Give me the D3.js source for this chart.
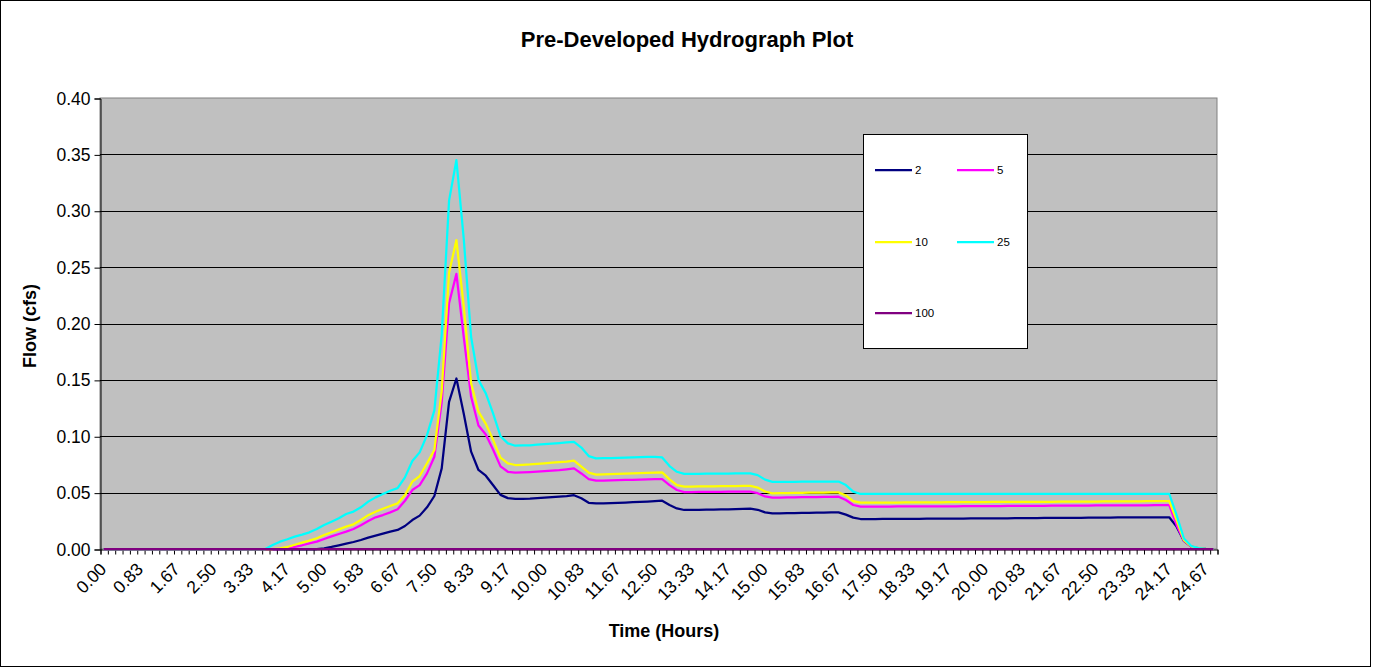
<!DOCTYPE html>
<html>
<head>
<meta charset="utf-8">
<script src="https://cdn.jsdelivr.net/npm/d3@7"></script>
<style>
  html, body { margin: 0; padding: 0; background: #ffffff; }
  svg { display: block; }
  text { font-family: "Liberation Sans", Arial, sans-serif; fill: #000; }
</style>
</head>
<body>
<svg id="chart" width="1373" height="667"></svg>
<script>
// ---------- DATA ----------
const times = [
  0.00,0.17,0.33,0.50,0.67,0.83,1.00,1.17,1.33,1.50,
  1.67,1.83,2.00,2.17,2.33,2.50,2.67,2.83,3.00,3.17,
  3.33,3.50,3.67,3.83,4.00,4.17,4.33,4.50,4.67,4.83,
  5.00,5.17,5.33,5.50,5.67,5.83,6.00,6.17,6.33,6.50,
  6.67,6.83,7.00,7.17,7.33,7.50,7.67,7.83,8.00,8.17,
  8.33,8.50,8.67,8.83,9.00,9.17,9.33,9.50,9.67,9.83,
  10.00,10.17,10.33,10.50,10.67,10.83,11.00,11.17,11.33,11.50,
  11.67,11.83,12.00,12.17,12.33,12.50,12.67,12.83,13.00,13.17,
  13.33,13.50,13.67,13.83,14.00,14.17,14.33,14.50,14.67,14.83,
  15.00,15.17,15.33,15.50,15.67,15.83,16.00,16.17,16.33,16.50,
  16.67,16.83,17.00,17.17,17.33,17.50,17.67,17.83,18.00,18.17,
  18.33,18.50,18.67,18.83,19.00,19.17,19.33,19.50,19.67,19.83,
  20.00,20.17,20.33,20.50,20.67,20.83,21.00,21.17,21.33,21.50,
  21.67,21.83,22.00,22.17,22.33,22.50,22.67,22.83,23.00,23.17,
  23.33,23.50,23.67,23.83,24.00,24.17,24.27,24.37,24.47,24.57,
  24.67,24.77
];

const yTicks = [0.00, 0.05, 0.10, 0.15, 0.20, 0.25, 0.30, 0.35, 0.40];

const flow2 = [
  0,0,0,0,0,0,0,0,0,0,
  0,0,0,0,0,0,0,0,0,0,
  0,0,0,0,0,0,0,0,0,0,
  0.0006,0.0018,0.0033,0.0047,0.0062,0.008,0.0101,0.0118,0.0136,0.0154,
  0.0169,0.0204,0.0257,0.0296,0.037,0.047,0.0715,0.1305,0.1512,0.12,
  0.0863,0.0701,0.065,0.0565,0.048,0.0451,0.0444,0.0445,0.0447,0.0451,
  0.0455,0.046,0.0465,0.047,0.0477,0.045,0.041,0.0404,0.0405,0.0407,
  0.0409,0.0412,0.0415,0.0418,0.0421,0.0425,0.0428,0.039,0.036,0.0346,
  0.0347,0.0348,0.035,0.035,0.0351,0.0352,0.0354,0.0356,0.0358,0.0348,
  0.0325,0.0316,0.0317,0.0318,0.0319,0.032,0.0321,0.0322,0.0323,0.0324,
  0.0325,0.0305,0.0278,0.0266,0.0266,0.0266,0.0267,0.0267,0.0267,0.0268,
  0.0268,0.0268,0.0269,0.0269,0.0269,0.027,0.027,0.027,0.0271,0.0271,
  0.0271,0.0272,0.0272,0.0272,0.0273,0.0273,0.0274,0.0274,0.0275,0.0275,
  0.0276,0.0276,0.0277,0.0277,0.0278,0.0278,0.0279,0.0279,0.028,0.028,
  0.028,0.0281,0.0281,0.0281,0.0281,0.0281,0.0198,0.0072,0.0021,0.0006,
  0.0002,0
];

const flow5 = [
  0,0,0,0,0,0,0,0,0,0,
  0,0,0,0,0,0,0,0,0,0,
  0,0,0,0,0,0.0003,0.0018,0.0033,0.005,0.0065,
  0.0089,0.0112,0.0133,0.0154,0.0177,0.021,0.0248,0.0281,0.0301,0.0325,
  0.0352,0.0428,0.0523,0.0567,0.0671,0.0818,0.13,0.218,0.244,0.188,
  0.135,0.1095,0.1015,0.088,0.0733,0.0685,0.0677,0.0679,0.0682,0.0686,
  0.069,0.0695,0.07,0.0707,0.0715,0.067,0.062,0.0606,0.0607,0.0608,
  0.061,0.0612,0.0614,0.0616,0.0618,0.062,0.062,0.0567,0.0523,0.0505,
  0.0505,0.0506,0.0506,0.0507,0.0507,0.0508,0.0508,0.0508,0.0509,0.0495,
  0.0466,0.0455,0.0456,0.0457,0.0458,0.0459,0.046,0.0461,0.0462,0.0463,
  0.0464,0.0435,0.039,0.0375,0.0375,0.0376,0.0376,0.0376,0.0377,0.0377,
  0.0377,0.0378,0.0378,0.0378,0.0379,0.0379,0.0379,0.038,0.038,0.038,
  0.0381,0.0381,0.0381,0.0382,0.0382,0.0382,0.0383,0.0383,0.0383,0.0384,
  0.0384,0.0384,0.0385,0.0385,0.0385,0.0386,0.0386,0.0386,0.0387,0.0387,
  0.0387,0.0388,0.0388,0.0389,0.0389,0.039,0.0213,0.0074,0.0021,0.0006,
  0.0002,0
];

const flow10 = [
  0,0,0,0,0,0,0,0,0,0,
  0,0,0,0,0,0,0,0,0,0,
  0,0,0,0,0.0006,0.0018,0.0038,0.0056,0.0074,0.0095,
  0.0124,0.0148,0.0174,0.0198,0.0219,0.0257,0.030,0.0331,0.0357,0.0381,
  0.0405,0.0479,0.0597,0.0647,0.076,0.0878,0.14,0.245,0.274,0.215,
  0.147,0.1218,0.111,0.0966,0.081,0.0759,0.0745,0.0747,0.075,0.0755,
  0.076,0.0765,0.077,0.0775,0.0783,0.073,0.0677,0.066,0.0662,0.0664,
  0.0666,0.0668,0.067,0.0672,0.0675,0.0678,0.068,0.0618,0.0567,0.0553,
  0.0554,0.0555,0.0555,0.0556,0.0557,0.0557,0.0558,0.0559,0.0559,0.0545,
  0.051,0.0494,0.0495,0.0496,0.0497,0.0498,0.0499,0.05,0.0501,0.0502,
  0.0502,0.0475,0.0425,0.0411,0.0411,0.0411,0.0412,0.0412,0.0412,0.0413,
  0.0413,0.0413,0.0414,0.0414,0.0414,0.0415,0.0415,0.0415,0.0416,0.0416,
  0.0416,0.0417,0.0417,0.0417,0.0418,0.0418,0.0418,0.0419,0.0419,0.0419,
  0.042,0.042,0.042,0.0421,0.0421,0.0421,0.0422,0.0422,0.0422,0.0423,
  0.0423,0.0423,0.0424,0.0424,0.0425,0.0425,0.0257,0.0078,0.0022,0.0007,
  0.0002,0
];

const flow25 = [
  0,0,0,0,0,0,0,0,0,0,
  0,0,0,0,0,0,0,0,0,0,
  0,0,0,0.0035,0.0065,0.0086,0.011,0.0127,0.0148,0.0177,
  0.0213,0.0242,0.0272,0.031,0.0332,0.037,0.042,0.0458,0.0488,0.0517,
  0.054,0.0635,0.078,0.0857,0.101,0.123,0.19,0.309,0.345,0.275,
  0.188,0.150,0.138,0.120,0.100,0.0937,0.0916,0.0918,0.092,0.0925,
  0.093,0.0935,0.094,0.0945,0.0951,0.09,0.0824,0.0804,0.0805,0.0806,
  0.0808,0.081,0.0812,0.0814,0.0816,0.0818,0.0812,0.0736,0.0685,0.0667,
  0.0667,0.0667,0.0668,0.0668,0.0669,0.0669,0.067,0.067,0.0671,0.0655,
  0.0615,0.0595,0.0595,0.0596,0.0596,0.0597,0.0597,0.0597,0.0598,0.0598,
  0.0598,0.0567,0.0509,0.0488,0.0488,0.0488,0.0488,0.0488,0.0488,0.0488,
  0.0488,0.0488,0.0488,0.0488,0.0488,0.0489,0.0489,0.0489,0.0489,0.0489,
  0.0489,0.0489,0.0489,0.0489,0.0489,0.0489,0.0489,0.0489,0.0489,0.049,
  0.049,0.049,0.049,0.049,0.049,0.049,0.049,0.049,0.049,0.049,
  0.049,0.049,0.049,0.049,0.049,0.049,0.03,0.0093,0.0027,0.0008,
  0.0002,0
];

const flow100 = [
  0,0,0,0,0,0,0,0,0,0, 0,0,0,0,0,0,0,0,0,0,
  0,0,0,0,0,0,0,0,0,0, 0,0,0,0,0,0,0,0,0,0,
  0,0,0,0,0,0,0,0,0,0, 0,0,0,0,0,0,0,0,0,0,
  0,0,0,0,0,0,0,0,0,0, 0,0,0,0,0,0,0,0,0,0,
  0,0,0,0,0,0,0,0,0,0, 0,0,0,0,0,0,0,0,0,0,
  0,0,0,0,0,0,0,0,0,0, 0,0,0,0,0,0,0,0,0,0,
  0,0,0,0,0,0,0,0,0,0, 0,0,0,0,0,0,0,0,0,0,
  0,0,0,0,0,0,0,0,0,0, 0,0
];

const seriesNames = ["2", "5", "10", "25", "100"];
const seriesColors = ["#000080", "#FF00FF", "#FFFF00", "#00FFFF", "#800080"];
const seriesValues = [flow2, flow5, flow10, flow25, flow100];

// ---------- LAYOUT ----------
const svg = d3.select("#chart");
const plot = { left: 100, right: 1217, top: 98, bottom: 549 };

// outer chart border
svg.append("rect")
  .attr("x", 0.5).attr("y", 0.5)
  .attr("width", 1370).attr("height", 666)
  .attr("fill", "#fff").attr("stroke", "#000").attr("stroke-width", 1);

const idx = d3.range(times.length);
const xBand = d3.scaleBand().domain(idx).range([plot.left, plot.right]).padding(0);
const xc = i => xBand(i) + xBand.bandwidth() / 2;
const xEdge = d3.scaleLinear().domain([0, times.length]).range([plot.left, plot.right]);
const y = d3.scaleLinear().domain([0, 0.4]).range([plot.bottom, plot.top]);

// plot area
svg.append("rect")
  .attr("x", plot.left).attr("y", plot.top)
  .attr("width", plot.right - plot.left).attr("height", plot.bottom - plot.top)
  .attr("fill", "#C0C0C0").attr("stroke", "#808080").attr("stroke-width", 1);

// gridlines
svg.append("g").selectAll("line")
  .data(yTicks.filter(v => v > 0 && v < 0.4))
  .join("line")
  .attr("x1", plot.left).attr("x2", plot.right)
  .attr("y1", d => Math.round(y(d)) + 0.5).attr("y2", d => Math.round(y(d)) + 0.5)
  .attr("stroke", "#000").attr("stroke-width", 1);

// Y axis
const yAxis = svg.append("g")
  .attr("transform", `translate(${plot.left + 0.5},0.5)`)
  .call(d3.axisLeft(y).tickValues(yTicks).tickFormat(d3.format(".2f")).tickSize(6).tickPadding(4));
yAxis.select(".domain").attr("stroke", "#000");
yAxis.selectAll(".tick line").attr("stroke", "#000");
yAxis.selectAll(".tick text")
  .style("font-family", '"Liberation Sans", Arial, sans-serif')
  .style("font-size", "17.5px").attr("fill", "#000");

// X axis tick marks at category boundaries
const xTickAxis = svg.append("g")
  .attr("transform", `translate(0.5,${plot.bottom + 0.5})`)
  .call(d3.axisBottom(xEdge).tickValues(d3.range(times.length + 1)).tickFormat("").tickSize(5));
xTickAxis.select(".domain").attr("stroke", "#000");
xTickAxis.selectAll(".tick line").attr("stroke", "#000");

// X axis labels (every 5th category)
const xLabAxis = svg.append("g")
  .attr("transform", `translate(0,${plot.bottom})`)
  .call(d3.axisBottom(xBand)
    .tickValues(idx.filter(i => i % 5 === 0))
    .tickFormat(i => times[i].toFixed(2))
    .tickSize(0));
xLabAxis.select(".domain").remove();
xLabAxis.selectAll(".tick text")
  .style("font-family", '"Liberation Sans", Arial, sans-serif')
  .style("font-size", "17.5px").attr("fill", "#000")
  .attr("text-anchor", "end")
  .attr("y", 0).attr("dy", "0.35em")
  .attr("transform", "translate(-0.5,17) rotate(-45)");

// series lines
const line = d3.line().x((d, i) => xc(i)).y(d => y(d));
svg.append("g").selectAll("path")
  .data(seriesValues)
  .join("path")
  .attr("d", d => line(d))
  .attr("fill", "none")
  .attr("stroke", (d, k) => seriesColors[k])
  .attr("stroke-width", 2.25)
  .attr("stroke-linejoin", "round");

// Title
svg.append("text")
  .attr("x", 687).attr("y", 47)
  .attr("text-anchor", "middle")
  .style("font-size", "22px").style("font-weight", "bold")
  .text("Pre-Developed Hydrograph Plot");

// Axis titles
svg.append("text")
  .attr("x", 664).attr("y", 637)
  .attr("text-anchor", "middle")
  .style("font-size", "18px").style("font-weight", "bold")
  .text("Time (Hours)");

svg.append("text")
  .attr("transform", "translate(36,326) rotate(-90)")
  .attr("text-anchor", "middle")
  .style("font-size", "18px").style("font-weight", "bold")
  .text("Flow (cfs)");

// Legend
const lg = svg.append("g");
lg.append("rect")
  .attr("x", 863.5).attr("y", 134.5).attr("width", 164).attr("height", 214)
  .attr("fill", "#fff").attr("stroke", "#000").attr("stroke-width", 1);
const legPos = [
  { x: 875, y: 170 }, { x: 957, y: 170 },
  { x: 875, y: 242 }, { x: 957, y: 242 },
  { x: 875, y: 313 }
];
seriesNames.forEach((name, k) => {
  const p = legPos[k];
  lg.append("line")
    .attr("x1", p.x).attr("x2", p.x + 37)
    .attr("y1", p.y).attr("y2", p.y)
    .attr("stroke", seriesColors[k]).attr("stroke-width", 2.25);
  lg.append("text")
    .attr("x", p.x + 40).attr("y", p.y).attr("dy", "0.35em")
    .style("font-size", "11.5px")
    .text(name);
});
</script>
</body>
</html>
